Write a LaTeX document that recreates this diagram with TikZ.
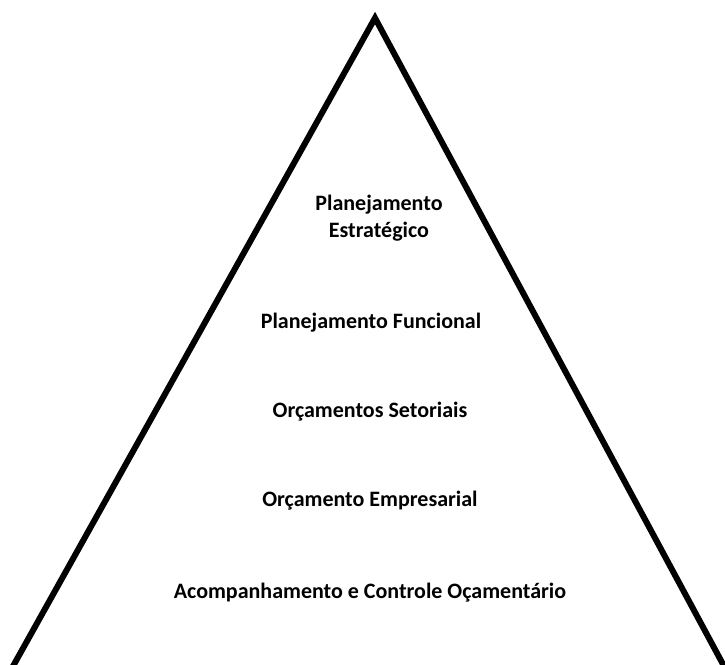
\documentclass[tikz,border=0pt]{standalone}
\usepackage{fontspec}
\setmainfont{Carlito}
\begin{document}
\begin{tikzpicture}[x=1pt,y=-1pt,
  lbl/.style={font=\bfseries\fontsize{22}{27}\selectfont, text=black, align=center, inner sep=0pt},
  edge/.style={line width=6pt, line join=miter, line cap=butt}]
\useasboundingbox (0,0) rectangle (725,664);
\fill[white] (0,0) rectangle (725,664);
\coordinate (apex) at (375,18);
\coordinate (bl) at (12,668);
\coordinate (br) at (725,668);
\draw[edge] (bl) -- (apex) -- (br);
\node[lbl] (n1) at (379,218) {Planejamento\\Estratégico};
\node[lbl] (n2) at (371,323) {Planejamento Funcional};
\node[lbl] (n3) at (370,412) {Orçamentos Setoriais};
\node[lbl] (n4) at (370,501) {Orçamento Empresarial};
\node[lbl] (n5) at (370,593) {Acompanhamento e Controle Oçamentário};
\end{tikzpicture}
\end{document}
